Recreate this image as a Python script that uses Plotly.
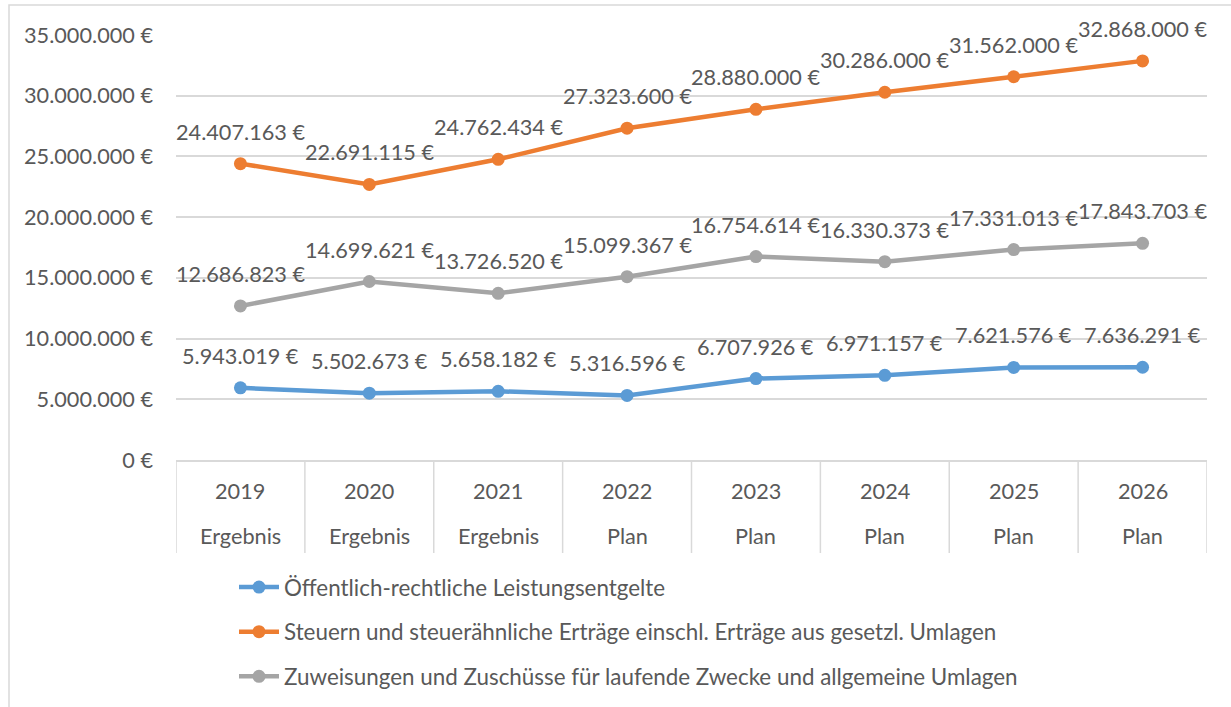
import plotly.graph_objects as go

years = ["2019", "2020", "2021", "2022", "2023", "2024", "2025", "2026"]
kinds = ["Ergebnis", "Ergebnis", "Ergebnis", "Plan", "Plan", "Plan", "Plan", "Plan"]

series_names = [
    "Öffentlich-rechtliche Leistungsentgelte",
    "Steuern und steuerähnliche Erträge einschl. Erträge aus gesetzl. Umlagen",
    "Zuweisungen und Zuschüsse für laufende Zwecke und allgemeine Umlagen",
]
blue_vals = [5943019, 5502673, 5658182, 5316596, 6707926, 6971157, 7621576, 7636291]
orange_vals = [24407163, 22691115, 24762434, 27323600, 28880000, 30286000, 31562000, 32868000]
gray_vals = [12686823, 14699621, 13726520, 15099367, 16754614, 16330373, 17331013, 17843703]
colors = ["#5B9BD5", "#ED7D31", "#A5A5A5"]

y_ticks = [0, 5000000, 10000000, 15000000, 20000000, 25000000, 30000000, 35000000]

FONT = "Lato, 'Open Sans', sans-serif"
TXT = "#595959"
GRID = "#D9D9D9"
FS = 21.7
LFS = 22.4

W, H = 1231, 707
L, R, T, B = 176, 24, 35, 247
plot_h = H - T - B


def eur(v):
    return f"{v:,}".replace(",", ".") + " €"


def py_to_paper(py):
    return (H - B - py) / plot_h


def px_to_paper(px):
    return (px - L) / (W - L - R)


fig = go.Figure()
annotations = []
for name, vals, col in zip(series_names, [blue_vals, orange_vals, gray_vals], colors):
    fig.add_trace(go.Scatter(
        x=years, y=vals, name=name, mode="lines+markers",
        line=dict(color=col, width=4.5),
        marker=dict(color=col, size=13),
        legendgroup=name,
    ))
    for i, v in enumerate(vals):
        annotations.append(dict(
            x=i, y=v, xref="x", yref="y", text=eur(v), showarrow=False,
            yshift=32, font=dict(family=FONT, size=FS, color=TXT),
        ))

# category table below the axis
for i, (yr, kd) in enumerate(zip(years, kinds)):
    annotations.append(dict(x=i, y=py_to_paper(491), xref="x", yref="paper", text=yr,
                            showarrow=False, yanchor="middle",
                            font=dict(family=FONT, size=FS, color=TXT)))
    annotations.append(dict(x=i, y=py_to_paper(536), xref="x", yref="paper", text=kd,
                            showarrow=False, yanchor="middle",
                            font=dict(family=FONT, size=FS, color=TXT)))

shapes = []
for i in range(len(years) + 1):
    shapes.append(dict(type="line", xref="x", yref="paper", x0=i - 0.5, x1=i - 0.5,
                       y0=0, y1=py_to_paper(553), line=dict(color=GRID, width=1.5)))
# outer chart border
shapes.append(dict(type="rect", xref="paper", yref="paper",
                   x0=px_to_paper(9), x1=px_to_paper(1245),
                   y0=py_to_paper(720), y1=py_to_paper(5),
                   line=dict(color=GRID, width=1.5), fillcolor="rgba(0,0,0,0)"))

fig.update_layout(
    width=W, height=H,
    margin=dict(l=L, r=R, t=T, b=B, autoexpand=False),
    paper_bgcolor="white", plot_bgcolor="white",
    font=dict(family=FONT, size=FS, color=TXT),
    showlegend=True,
    legend=dict(
        x=px_to_paper(234), y=py_to_paper(566), xanchor="left", yanchor="top",
        orientation="v", tracegroupgap=12.5, font=dict(family=FONT, size=LFS, color=TXT),
        bgcolor="rgba(0,0,0,0)", itemwidth=40,
    ),
    annotations=annotations,
    shapes=shapes,
)
fig.update_xaxes(type="category", range=[-0.5, len(years) - 0.5], showticklabels=False,
                 showgrid=False, showline=True, linecolor=GRID, linewidth=1.5,
                 ticks="", zeroline=False)
fig.update_yaxes(range=[0, 35000000], tickvals=y_ticks, ticktext=[eur(v) for v in y_ticks],
                 showgrid=True, gridcolor=GRID, gridwidth=1.5, zeroline=False,
                 showline=False, ticks="", ticklabelstandoff=22,
                 tickfont=dict(family=FONT, size=FS, color=TXT))

fig.write_html("out.html", config={"displayModeBar": False},
               post_script="document.body.style.margin='0';document.body.style.overflow='hidden';")
